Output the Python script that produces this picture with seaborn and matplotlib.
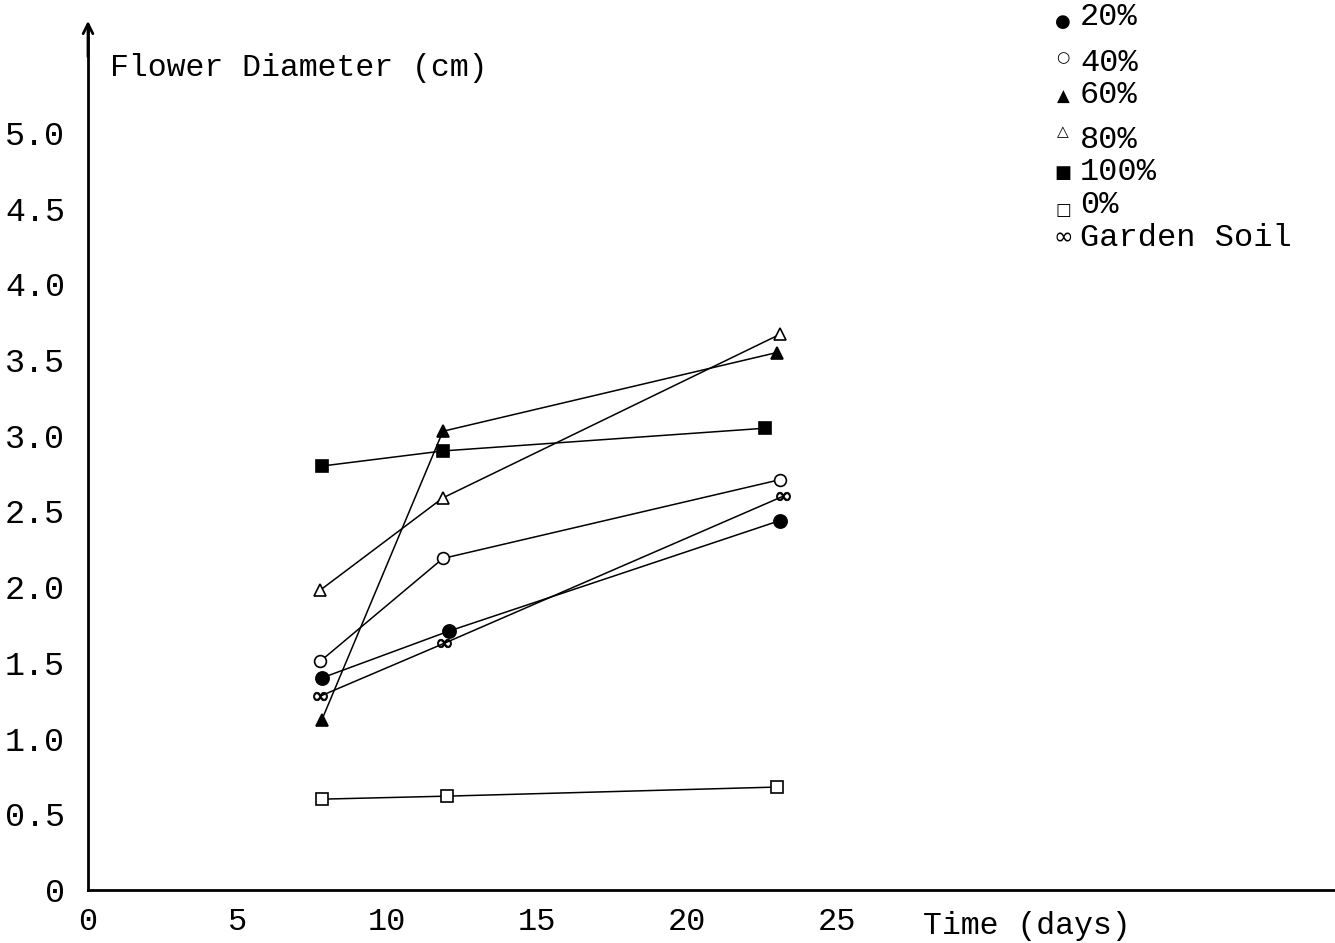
import pandas as pd
import matplotlib.pyplot as plt
import seaborn as sns

# Flower diameter vs time, per soil mix
days_20 = [7.8, 12.05, 23.1]
dia_20 = [1.40, 1.71, 2.44]
days_40 = [7.75, 11.85, 23.1]
dia_40 = [1.51, 2.19, 2.71]
days_60 = [7.8, 11.85, 23.0]
dia_60 = [1.12, 3.03, 3.55]
days_80 = [7.75, 11.85, 23.1]
dia_80 = [1.98, 2.59, 3.67]
days_100 = [7.8, 11.85, 22.6]
dia_100 = [2.80, 2.90, 3.05]
days_0 = [7.8, 12.0, 23.0]
dia_0 = [0.60, 0.62, 0.68]
days_garden = [7.75, 11.9, 23.2]
dia_garden = [1.28, 1.63, 2.60]

groups = ['20%', '40%', '60%', '80%', '100%', '0%', 'Garden Soil']
x_ticks = [0, 5, 10, 15, 20, 25]
y_ticks = [0, 0.5, 1.0, 1.5, 2.0, 2.5, 3.0, 3.5, 4.0, 4.5, 5.0]
y_tick_labels = ['0', '0.5', '1.0', '1.5', '2.0', '2.5', '3.0', '3.5', '4.0', '4.5', '5.0']

series = {
    '20%': (days_20, dia_20),
    '40%': (days_40, dia_40),
    '60%': (days_60, dia_60),
    '80%': (days_80, dia_80),
    '100%': (days_100, dia_100),
    '0%': (days_0, dia_0),
    'Garden Soil': (days_garden, dia_garden),
}
rows = []
for g in groups:
    for d, v in zip(*series[g]):
        rows.append({'group': g, 'day': d, 'diameter': v})
df = pd.DataFrame(rows)

# marker, face colour, size, edge width
styles = {
    '20%': ('o', 'black', 9.5, 1.2),
    '40%': ('o', 'white', 8.5, 1.2),
    '60%': ('^', 'black', 9, 1.2),
    '80%': ('^', 'white', 8.5, 1.2),
    '100%': ('s', 'black', 9, 1.2),
    '0%': ('s', 'white', 8, 1.2),
    'Garden Soil': ('$\\infty$', 'black', 10, 0.6),
}
legend_glyphs = {'20%': '●', '40%': '○', '60%': '▲', '80%': '△',
                 '100%': '■', '0%': '□', 'Garden Soil': '∞'}
glyph_size = {'20%': 13, '40%': 11, '60%': 12, '80%': 11,
              '100%': 13, '0%': 12, 'Garden Soil': 17}

sns.set_style('white')
plt.rcParams['font.family'] = ['Liberation Mono', 'DejaVu Sans']

fig = plt.figure(figsize=(13.35, 9.43), dpi=100)
W, H = 1335, 943
ax = fig.add_axes([88 / W, 53 / H, 1247 / W, 865 / H])

for g in groups:
    m, fc, ms, mew = styles[g]
    sub = df[df['group'] == g]
    sns.lineplot(data=sub, x='day', y='diameter', ax=ax, color='black',
                 linewidth=1.1, marker=m, markersize=ms,
                 markerfacecolor=fc, markeredgecolor='black',
                 markeredgewidth=mew, legend=False)

ax.set_xlim(0, 1247 / 29.95)
ax.set_ylim(0, 865 / 151.4)
ax.set_xticks(x_ticks)
ax.set_yticks(y_ticks)
ax.set_yticklabels(y_tick_labels)
ax.tick_params(axis='both', direction='inout', length=9, width=1.2,
               color='black', labelcolor='black')
ax.tick_params(axis='y', pad=12, labelsize=24)
ax.tick_params(axis='x', pad=8, labelsize=23)

for s in ['top', 'right']:
    ax.spines[s].set_visible(False)
for s in ['left', 'bottom']:
    ax.spines[s].set_color('black')
    ax.spines[s].set_linewidth(2)

ax.annotate('', xy=(0, 1.008), xytext=(0, 0.96), xycoords='axes fraction',
            arrowprops=dict(arrowstyle='->,head_length=0.7,head_width=0.35',
                            lw=2, color='black'))

ax.set_ylabel('Flower Diameter (cm)', rotation=0, ha='left', va='center',
              fontsize=22.7, color='black')
ax.yaxis.set_label_coords((110 - 88) / 1247, (890 - 68) / 865)
ax.set_xlabel('Time (days)', ha='center', va='top', fontsize=22.7, color='black')
ax.xaxis.set_label_coords((1027 - 88) / 1247, -(911 - 890) / 865)

# legend in the top right corner
marker_y = [22, 58, 97, 132, 173, 210, 237]
text_y = [17, 63, 95, 140, 172, 205, 238]
for g, my, ty in zip(groups, marker_y, text_y):
    fig.text(1063 / W, 1 - my / H, legend_glyphs[g], ha='center', va='center',
             fontsize=glyph_size[g], family='DejaVu Sans', color='black')
    fig.text(1080 / W, 1 - ty / H, g, ha='left', va='center', fontsize=23,
             color='black')

plt.savefig('out.png', dpi=100)
